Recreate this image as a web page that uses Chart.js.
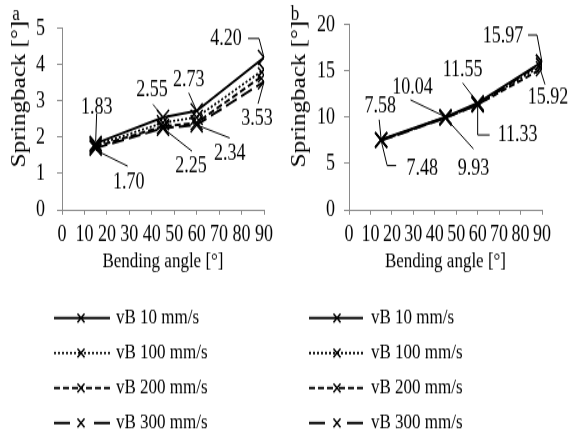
<!DOCTYPE html>
<html>
<head>
<meta charset="utf-8">
<script src="https://cdn.jsdelivr.net/npm/chart.js@4.4.1/dist/chart.umd.min.js"></script>
<style>
  html, body { margin: 0; padding: 0; background: #fff; }
  #stage { position: relative; width: 570px; height: 432px; overflow: hidden; }
  .panel { position: absolute; top: 0; width: 285px; height: 346px; transform-origin: 0 0; }
</style>
</head>
<body>
<div id="stage">
  <div class="panel" id="pa" style="left:0px"><canvas id="ca" width="285" height="346"></canvas></div>
  <div class="panel" id="pb" style="left:285px"><canvas id="cb" width="285" height="346"></canvas></div>
</div>
<script>
// ---------------- DATA ----------------
const bendingAngles = [15, 45, 60, 90];
const seriesNames = ['vB 10 mm/s', 'vB 100 mm/s', 'vB 200 mm/s', 'vB 300 mm/s'];

// panel a
const springbackA_vB10  = [1.83, 2.55, 2.73, 4.20];
const springbackA_vB100 = [1.78, 2.40, 2.55, 3.87];
const springbackA_vB200 = [1.74, 2.30, 2.40, 3.72];
const springbackA_vB300 = [1.70, 2.25, 2.34, 3.53];

// panel b
const springbackB_vB10  = [7.58, 10.04, 11.55, 15.97];
const springbackB_vB100 = [7.55, 10.00, 11.45, 15.60];
const springbackB_vB200 = [7.52, 9.97, 11.38, 15.25];
const springbackB_vB300 = [7.48, 9.93, 11.33, 15.92];

const xAxisTicks = { min: 0, max: 90, step: 10 };
const yAxisTicksA = { min: 0, max: 5, step: 1 };
const yAxisTicksB = { min: 0, max: 20, step: 5 };

const xTitle = 'Bending angle [°]';
const yTitle = 'Springback [°]';

// ---------------- STYLE ----------------
const S = 432 / 346;             // vertical stretch of the whole picture
const FONT = '"Liberation Serif", "Times New Roman", serif';
const AXIS_GREY = '#8a8a8a';
const lineStyles = [
  { dash: [], width: 2 },
  { dash: [2, 2], width: 1.8 },
  { dash: [6, 3], width: 2 },
  { dash: [12, 5], width: 2 }
];
const legendDash = [[], [2, 2], [6, 3], [16, 100]];
const legendRowsY = [318, 353, 388, 423]; // screen px

// annotation layout: offsets (screen px) from the labelled point
const annotLayoutA = [
  { s: 0, i: 0, path: [[1, -30], [0, -2]], text: [1, -36] },
  { s: 3, i: 0, path: [[0, 2], [32, 18]], text: [33, 35] },
  { s: 0, i: 1, path: [[-10, -13], [0, 0]], text: [-11, -27] },
  { s: 3, i: 1, path: [[0, 0], [29, 23]], text: [28, 38] },
  { s: 0, i: 2, path: [[-8, -18], [0, 0]], text: [-8, -31] },
  { s: 3, i: 2, path: [[0, 0], [33, 13]], text: [33, 29] },
  { s: 0, i: 3, path: [[-16, -19], [-5, -19], [0, 0]], text: [-38, -18] },
  { s: 3, i: 3, path: [[0, 0], [-6, 22]], text: [-7, 37] }
];
const annotLayoutB = [
  { s: 0, i: 0, path: [[-2, -20], [0, 0]], text: [-1, -33] },
  { s: 3, i: 0, path: [[0, 0], [6, 25], [15, 25]], text: [41, 28] },
  { s: 0, i: 1, path: [[-35, -17], [0, 0]], text: [-33, -29] },
  { s: 3, i: 1, path: [[0, 0], [28, 31]], text: [28, 51] },
  { s: 0, i: 2, path: [[-15, -20], [0, 0]], text: [-15, -33] },
  { s: 3, i: 2, path: [[0, 0], [0, 30], [12, 30]], text: [40, 30] },
  { s: 0, i: 3, path: [[-14, -27], [-5, -27], [0, 0]], text: [-39, -25] },
  { s: 3, i: 3, path: [[-2, 6], [3, 22]], text: [6, 35] }
];

const panels = [
  {
    canvas: 'ca', letter: 'a', letterX: 16, chartLeft: 62, padRight: 21, yTickPad: 12,
    yTitleX: 20, legendLine: [54, 110], legendMarker: 81, legendText: 116,
    series: [springbackA_vB10, springbackA_vB100, springbackA_vB200, springbackA_vB300],
    yTicks: yAxisTicksA, annot: annotLayoutA
  },
  {
    canvas: 'cb', letter: 'b', letterX: 10, chartLeft: 64, padRight: 28, yTickPad: 9,
    yTitleX: 15, legendLine: [24, 78], legendMarker: 52, legendText: 86,
    series: [springbackB_vB10, springbackB_vB100, springbackB_vB200, springbackB_vB300],
    yTicks: yAxisTicksB, annot: annotLayoutB
  }
];

document.querySelectorAll('.panel').forEach(el => { el.style.transform = 'scaleY(' + S + ')'; });

function drawCross(ctx, x, y, r) {
  const d = r * Math.SQRT1_2;
  ctx.beginPath();
  ctx.moveTo(x - d, y - d); ctx.lineTo(x + d, y + d);
  ctx.moveTo(x - d, y + d); ctx.lineTo(x + d, y - d);
  ctx.stroke();
}

function makeDecor(p) {
  return {
    id: 'decor_' + p.canvas,
    afterDatasetsDraw(chart) {
      const ctx = chart.ctx;
      ctx.save();
      ctx.fillStyle = '#000';
      ctx.strokeStyle = '#000';
      // annotations
      ctx.lineWidth = 1;
      ctx.font = '18px ' + FONT;
      ctx.textAlign = 'center';
      ctx.textBaseline = 'middle';
      p.annot.forEach(a => {
        const el = chart.getDatasetMeta(a.s).data[a.i];
        const px = el.x, py = el.y;
        ctx.beginPath();
        a.path.forEach((pt, k) => {
          const X = px + pt[0], Y = py + pt[1] / S;
          if (k === 0) ctx.moveTo(X, Y); else ctx.lineTo(X, Y);
        });
        ctx.setLineDash([]);
        ctx.stroke();
        ctx.fillText(p.series[a.s][a.i].toFixed(2), px + a.text[0], py + a.text[1] / S);
      });
      // y title
      ctx.save();
      ctx.translate(p.yTitleX, 94 / S);
      ctx.rotate(-Math.PI / 2);
      ctx.font = '20px ' + FONT;
      ctx.fillText(yTitle, 0, 0);
      ctx.restore();
      // x title
      const ca = chart.chartArea;
      ctx.font = '17px ' + FONT;
      ctx.fillText(xTitle, (ca.left + ca.right) / 2, 261 / S);
      // panel letter
      ctx.textAlign = 'center';
      ctx.textBaseline = 'alphabetic';
      ctx.fillText(p.letter, p.letterX, 20 / S);
      // legend
      seriesNames.forEach((name, i) => {
        const y = legendRowsY[i] / S;
        const st = lineStyles[i];
        const [x0, x1] = p.legendLine;
        const xm = p.legendMarker;
        ctx.lineWidth = st.width;
        ctx.setLineDash(legendDash[i]);
        ctx.lineDashOffset = 0;
        ctx.beginPath(); ctx.moveTo(x0, y); ctx.lineTo(xm, y); ctx.stroke();
        ctx.beginPath(); ctx.moveTo(x1, y); ctx.lineTo(xm, y); ctx.stroke();
        ctx.setLineDash([]);
        ctx.lineWidth = 1.5;
        drawCross(ctx, xm, y, 5);
        ctx.font = '17px ' + FONT;
        ctx.textAlign = 'left';
        ctx.textBaseline = 'middle';
        ctx.fillText(name, p.legendText, y);
      });
      ctx.restore();
    }
  };
}

panels.forEach(p => {
  const datasets = p.series.map((vals, k) => ({
    label: seriesNames[k],
    data: bendingAngles.map((x, j) => ({ x: x, y: vals[j] })),
    borderColor: '#000',
    backgroundColor: '#000',
    borderWidth: lineStyles[k].width,
    borderDash: lineStyles[k].dash,
    fill: false,
    tension: 0,
    pointStyle: 'crossRot',
    pointRadius: 8.5,
    pointBorderWidth: 1.5,
    pointBorderColor: '#000',
    pointBackgroundColor: '#000'
  }));
  new Chart(document.getElementById(p.canvas), {
    type: 'line',
    data: { datasets },
    options: {
      responsive: false,
      animation: false,
      devicePixelRatio: 1,
      layout: { padding: { left: 0, right: p.padRight, top: 16, bottom: 128 } },
      plugins: { legend: { display: false }, tooltip: { enabled: false } },
      scales: {
        x: {
          type: 'linear',
          min: xAxisTicks.min, max: xAxisTicks.max,
          ticks: {
            stepSize: xAxisTicks.step, autoSkip: false, maxRotation: 0, minRotation: 0,
            color: '#000', font: { family: FONT, size: 18 }, padding: 5
          },
          grid: { display: true, drawOnChartArea: false, drawTicks: true, tickLength: 4, color: AXIS_GREY },
          border: { display: true, color: AXIS_GREY, width: 1 },
          title: { display: false, text: xTitle },
          afterFit(s) { s.height = 50; }
        },
        y: {
          type: 'linear',
          min: p.yTicks.min, max: p.yTicks.max,
          ticks: { stepSize: p.yTicks.step, color: '#000', font: { family: FONT, size: 18 }, padding: p.yTickPad },
          grid: { display: true, drawOnChartArea: false, drawTicks: true, tickLength: 5, color: AXIS_GREY },
          border: { display: true, color: AXIS_GREY, width: 1 },
          afterFit(s) { s.width = p.chartLeft; }
        }
      }
    },
    plugins: [makeDecor(p)]
  });
});
</script>
</body>
</html>
